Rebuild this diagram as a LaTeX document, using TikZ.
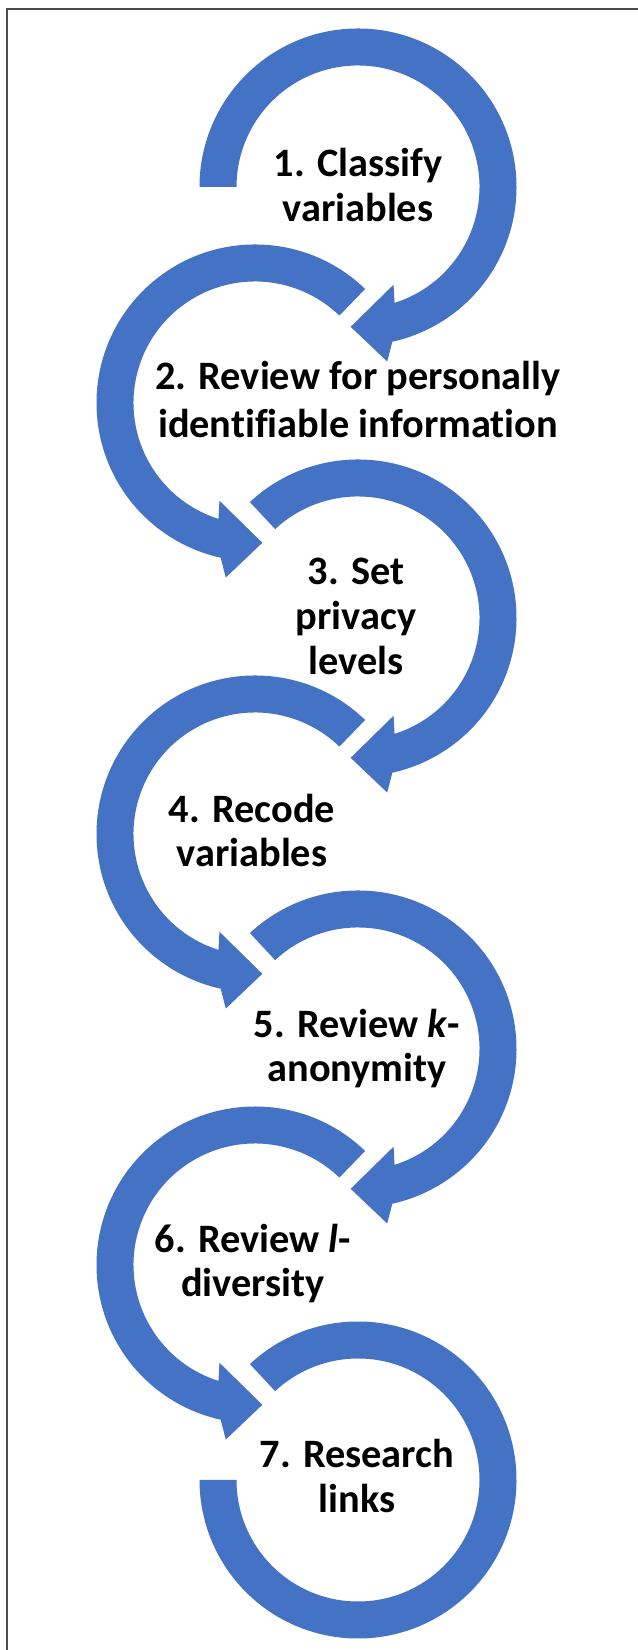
\documentclass[tikz,border=0pt]{standalone}
\usepackage{fontspec}
\setmainfont{Carlito}[Ligatures=NoCommon]
\definecolor{arrowblue}{HTML}{4472C4}
\definecolor{framegray}{HTML}{4D4D4D}
\tikzset{
  band/.style={fill=arrowblue, draw=none},
  steptext/.style={anchor=base, inner sep=0pt, text=black},
  frameline/.style={draw=framegray, line width=1.5bp}
}
\newcommand\stepfont[1]{\bfseries\fontsize{40.5}{#1}\selectfont}
% clockwise circular arrow: #1 centre, #2 start angle
\newcommand\cwarrow[2]{%
  \fill[band] ([shift={(#2:158.5bp)}]#1) arc[start angle=#2, end angle=-77.5, radius=158.5bp]
    -- ([shift={(-80.5:177bp)}]#1) -- ([shift={(-93:140bp)}]#1)
    -- ([shift={(-70:104bp)}]#1) -- ([shift={(-72.5:121.5bp)}]#1)
    arc[start angle=-72.5, end angle=#2, radius=121.5bp] -- cycle;}
% counter-clockwise circular arrow
\newcommand\ccwarrow[2]{%
  \fill[band] ([shift={(#2:158.5bp)}]#1) arc[start angle=#2, end angle=257.5, radius=158.5bp]
    -- ([shift={(260.5:177bp)}]#1) -- ([shift={(273:140bp)}]#1)
    -- ([shift={(250:104bp)}]#1) -- ([shift={(252.5:121.5bp)}]#1)
    arc[start angle=252.5, end angle=#2, radius=121.5bp] -- cycle;}
\begin{document}
\begin{tikzpicture}[x=1bp, y=1bp]
\useasboundingbox (0,0) rectangle (638,1650);
\fill[white] (0,0) rectangle (638,1650);
\draw[frameline] (7,0) -- (7,1641) -- (638,1641);

\coordinate (c1) at (358,1463);
\coordinate (c2) at (255,1247);
\coordinate (c3) at (358,1032);
\coordinate (c4) at (255,816);
\coordinate (c5) at (358,601);
\coordinate (c6) at (255,385);
\coordinate (c7) at (358,170);

\cwarrow{c1}{180}
\ccwarrow{c2}{46}
\cwarrow{c3}{133}
\ccwarrow{c4}{46}
\cwarrow{c5}{133}
\ccwarrow{c6}{46}
\fill[band] ([shift={(133:158.5bp)}]c7) arc[start angle=133, end angle=-180, radius=158.5bp]
  -- ([shift={(180:121.5bp)}]c7) arc[start angle=-180, end angle=133, radius=121.5bp] -- cycle;

\node[steptext] (s1) at (358,1473) {\stepfont{45}\begin{tabular}[t]{@{}c@{}}1. Classify\\variables\end{tabular}};
\node[steptext] (s2) at (358,1260) {\stepfont{48}\begin{tabular}[t]{@{}c@{}}2. Review for personally\\identifiable information\end{tabular}};
\node[steptext] (s3) at (356,1065) {\stepfont{45}\begin{tabular}[t]{@{}c@{}}3. Set\\privacy\\levels\end{tabular}};
\node[steptext] (s4) at (252,827) {\stepfont{44}\begin{tabular}[t]{@{}c@{}}4. Recode\\variables\end{tabular}};
\node[steptext] (s5) at (357,612) {\stepfont{44}\begin{tabular}[t]{@{}c@{}}5. Review \textit{k}-\\anonymity\end{tabular}};
\node[steptext] (s6) at (253,397) {\stepfont{44}\begin{tabular}[t]{@{}c@{}}6. Review \textit{l}-\\diversity\end{tabular}};
\node[steptext] (s7) at (357,182) {\stepfont{45}\begin{tabular}[t]{@{}c@{}}7. Research\\links\end{tabular}};
\end{tikzpicture}
\end{document}
